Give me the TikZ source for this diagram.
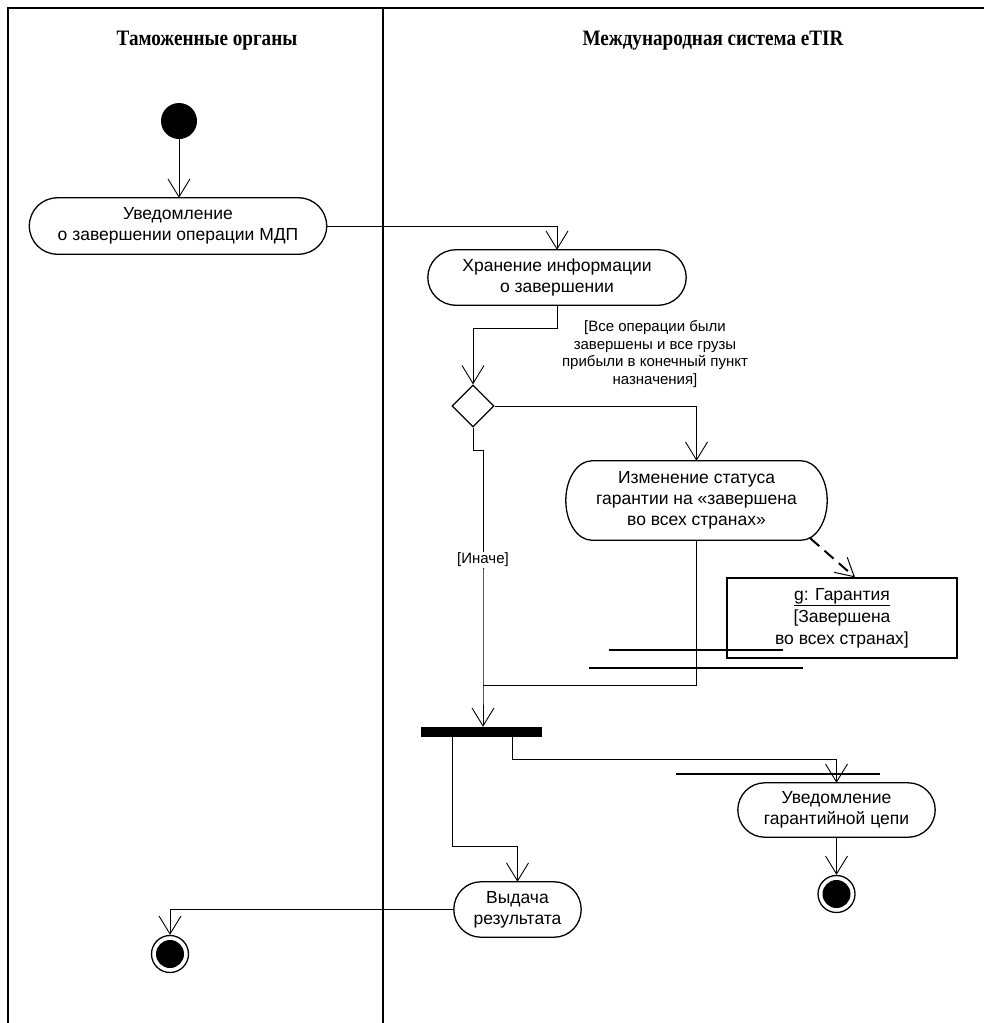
\documentclass[tikz,border=0pt]{standalone}
\usepackage{fontspec}
\setmainfont{Liberation Sans}
\newfontfamily\hdrfont[FakeStretch=0.87]{Liberation Serif}
\usetikzlibrary{arrows.meta,shapes.geometric,calc}
\newcommand\actshape[2]{%
  \draw[actline] let \p1=(#1.north west), \p2=(#1.south east), \n1={(\y1-\y2)/2} in
    (\x1+#2,\y1) -- (\x2-#2,\y1)
    arc[start angle=90,end angle=-90,x radius=#2,y radius=\n1]
    -- (\x1+#2,\y2)
    arc[start angle=270,end angle=90,x radius=#2,y radius=\n1] -- cycle;}
\begin{document}
\begin{tikzpicture}[x=1pt,y=-1pt,
  flow/.style={draw, line width=0.9pt, -{Straight Barb[length=18pt,width=22pt,line width=0.9pt]}},
  link/.style={draw, line width=0.9pt},
  act/.style={inner sep=0pt, align=center, font=\fontsize{17.5}{21}\selectfont},
  actline/.style={draw, line width=1.3pt},
  frame/.style={line width=2pt},
  hdr/.style={font=\hdrfont\bfseries\fontsize{22}{26}\selectfont},
  guard/.style={align=center, font=\fontsize{15}{17.5}\selectfont, inner sep=1pt},
  startnode/.style={circle, fill=black, minimum size=36pt, inner sep=0pt},
  endnode/.style={circle, draw, line width=1.3pt, minimum size=37pt, inner sep=0pt,
    path picture={\fill (path picture bounding box.center) circle[radius=14pt];}},
  objbox/.style={draw, line width=1.3pt, minimum width=230pt, minimum height=80pt,
    align=center, font=\fontsize{17.5}{22}\selectfont},
  forkbar/.style={fill=black, minimum width=121pt, minimum height=10pt, inner sep=0pt},
  thickbar/.style={line width=2.5pt},
  decision/.style={diamond, draw, line width=1.3pt, minimum width=42pt, minimum height=42pt, inner sep=0pt},
  dashflow/.style={line width=2pt, dash pattern=on 12pt off 7pt,
    -{Straight Barb[length=18pt,width=20pt,line width=1pt]}}
]
\useasboundingbox (0,0) rectangle (984,1023);
% frame
\draw[frame] (8,1023) -- (8,8) -- (984,8);
\draw[frame] (383,8) -- (383,1023);
\node[hdr] (h1) at (207,41) {Таможенные органы};
\node[hdr] (h2) at (713,41) {Международная система eTIR};
% nodes
\node[startnode] (s) at (179,121) {};
\node[act, minimum width=297pt, minimum height=56pt] (a1) at (178,226) {Уведомление\\о завершении операции МДП};
\node[act, minimum width=258pt, minimum height=55pt] (a2) at (557,277.5) {Хранение информации\\о завершении};
\node[decision] (d) at (473,406) {};
\node[act, minimum width=261pt, minimum height=79pt] (a3) at (696.5,500.5) {Изменение статуса\\гарантии на «завершена\\во всех странах»};
\node[objbox] (obj) at (842,618) {\underline{g: Гарантия}\\{}[Завершена\\во всех странах]};
\node[forkbar] (bar) at (481.5,732) {};
\node[act, minimum width=197pt, minimum height=54pt] (a4) at (836.5,810) {Уведомление\\гарантийной цепи};
\node[act, minimum width=127pt, minimum height=55pt] (a5) at (517.5,909.5) {Выдача\\результата};
\node[endnode] (e1) at (170,954) {};
\node[endnode] (e2) at (836.5,894) {};
\actshape{a1}{28pt}
\actshape{a2}{28pt}
\actshape{a3}{26pt}
\actshape{a4}{27pt}
\actshape{a5}{27pt}
% thick lines
\draw[thickbar] (609,650) -- (783,650);
\draw[thickbar] (589,668) -- (803,668);
\draw[thickbar] (676,774) -- (880,774);
% connectors
\draw[flow] (s) -- (s |- a1.north);
\draw[flow] (a1.east) -| (a2.north);
\draw[flow] (a2.south) -- ++(0,23) -| (d.north);
\draw[flow] (d.east) -| (a3.north);
\coordinate (j) at (483,685);
\draw[flow] (d.south) -- ++(0,23) -| (j) -- (j |- bar.north);
\draw[link] (a3.south) |- (j);
\draw[dashflow] ($(a3.south east)+(-17,-2)$) -- ([xshift=13pt]obj.north);
\draw[flow] ([xshift=-29.5pt]bar.south) -- ++(0,109) -| (a5.north);
\draw[flow] ([xshift=30.5pt]bar.south) -- ++(0,22) -| (a4.north);
\draw[flow] (a4.south) -- (e2.north);
\draw[flow] (a5.west) -| (e1.north);
% guards
\node[guard] (g1) at (655,354) {[Все операции были\\завершены и все грузы\\прибыли в конечный пункт\\назначения]};
\node[guard, fill=white] (g2) at (483,560) {[Иначе]};
\end{tikzpicture}
\end{document}
